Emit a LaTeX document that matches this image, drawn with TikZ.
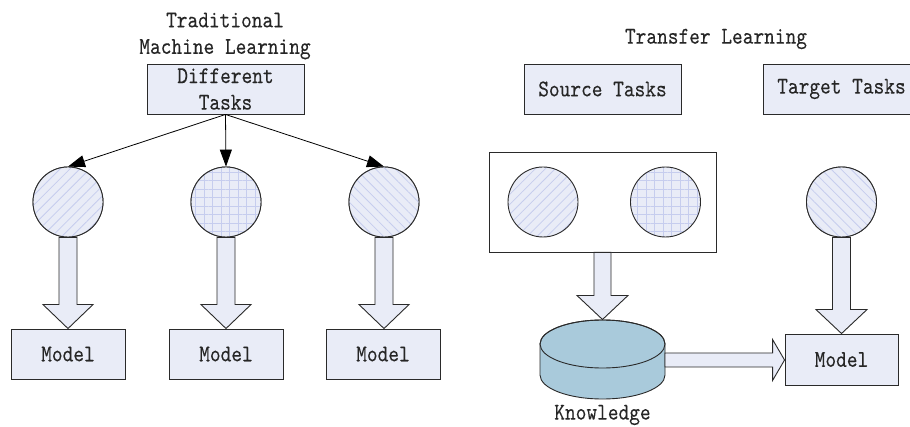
\documentclass[tikz,border=0pt]{standalone}
\usepackage{fontspec}
\usetikzlibrary{arrows.meta,calc,patterns.meta}
\newfontfamily\diagfont{lmmono10-regular}[Extension=.otf, FakeStretch=0.85, FakeBold=0.12]

\definecolor{boxfill}{HTML}{E9ECF7}
\definecolor{hatchc}{HTML}{C6CDEE}
\definecolor{edgec}{HTML}{2A2A2A}
\definecolor{cylfill}{HTML}{A9CADB}

% vertical block arrow: from, to, shaft half width, head half width, head length
\newcommand\blockdown[5]{%
  \draw[blockarrow] let \p1=(#1), \p2=(#2) in
    ({\x1-#3pt},\y1) -- ({\x1-#3pt},{\y2+#5pt}) -- ({\x1-#4pt},{\y2+#5pt})
    -- (\x1,\y2) -- ({\x1+#4pt},{\y2+#5pt}) -- ({\x1+#3pt},{\y2+#5pt})
    -- ({\x1+#3pt},\y1) -- cycle;}
% horizontal block arrow pointing right
\newcommand\blockright[5]{%
  \draw[blockarrow] let \p1=(#1), \p2=(#2) in
    (\x1,{\y1+#3pt}) -- ({\x2-#5pt},{\y1+#3pt}) -- ({\x2-#5pt},{\y1+#4pt})
    -- (\x2,\y1) -- ({\x2-#5pt},{\y1-#4pt}) -- ({\x2-#5pt},{\y1-#3pt})
    -- (\x1,{\y1-#3pt}) -- cycle;}

\tikzset{
  txt/.style={font=\diagfont\fontsize{24}{26.5}\selectfont, inner sep=0pt, text=black!85},
  taskbox/.style={txt, draw=edgec, fill=boxfill, line width=0.9pt,
    minimum width=157pt, minimum height=50pt, align=center},
  modelbox/.style={txt, draw=edgec, fill=boxfill, line width=0.9pt,
    minimum width=114pt, minimum height=50pt},
  disc/.style={circle, draw=edgec, line width=0.9pt, minimum size=70pt, inner sep=0pt,
    preaction={fill=boxfill}},
  discA/.style={disc, pattern={Lines[angle=45,distance=7pt,line width=0.8pt]}, pattern color=hatchc},
  discB/.style={disc, pattern={Hatch[angle=0,distance=8.5pt,line width=0.8pt]}, pattern color=hatchc},
  discC/.style={disc, pattern={Lines[angle=-45,distance=7pt,line width=0.8pt]}, pattern color=hatchc},
  thinarrow/.style={draw=black, line width=0.8pt, -{Triangle[length=17pt,width=12pt]}},
  blockarrow/.style={draw=edgec, fill=boxfill, line width=0.9pt, line join=miter},
}

\begin{document}
\begin{tikzpicture}[x=1pt,y=-1pt]
\useasboundingbox (0,0) rectangle (910,427);
\clip (0,0) rectangle (910,427);
\fill[white] (0,0) rectangle (910,427);

% ---------- traditional machine learning ----------
\node[txt, align=center] (tradT) at (225,36) {Traditional\\Machine Learning};
\node[taskbox] (diff) at (225.5,89) {Different\\Tasks};

\node[discA] (c1) at (68,202) {};
\node[discB] (c2) at (226,202) {};
\node[discC] (c3) at (384,202) {};

\node[modelbox] (m1) at (68,354) {Model};
\node[modelbox] (m2) at (226,354) {Model};
\node[modelbox] (m3) at (383,354) {Model};

\draw[thinarrow] (diff.south) -- (c1.north);
\draw[thinarrow] (diff.south) -- (c2.north);
\draw[thinarrow] (diff.south) -- (c3.north);

\blockdown{c1.south}{m1.north}{9}{25}{24}
\blockdown{c2.south}{m2.north}{9}{25}{24}
\blockdown{c3.south}{m3.north}{9}{25}{24}
\node[discA] at (c1) {};
\node[discB] at (c2) {};
\node[discC] at (c3) {};

% ---------- transfer learning ----------
\node[txt] (transT) at (716,39) {Transfer Learning};
\node[taskbox] (src) at (602.5,89) {Source Tasks};
\node[taskbox] (tgt) at (841.5,89) {Target Tasks};

\node[draw=edgec, fill=white, line width=0.9pt, minimum width=227pt, minimum height=100pt,
  inner sep=0pt] (pool) at (602.5,202) {};
\node[discA] (s1) at (543,202) {};
\node[discB] (s2) at (665.5,202) {};
\node[discC] (t1) at (841.5,202) {};

% knowledge store (cylinder)
\filldraw[draw=edgec, fill=cylfill, line width=0.9pt]
  (540,344) -- (540,375) arc[start angle=180, end angle=360, x radius=62.5, y radius=-24]
  -- (665,344) arc[start angle=0, end angle=180, x radius=62.5, y radius=-24] -- cycle;
\draw[edgec, line width=0.9pt] (602.5,344) ellipse[x radius=62.5, y radius=24];
\coordinate (kN) at (602.5,319.5);
\coordinate (kE) at (665,360);
\node[txt] (know) at (602.5,415) {Knowledge};

\node[modelbox, minimum width=113pt, minimum height=51pt] (mt) at (841.5,359.5) {Model};

\blockdown{pool.south}{kN}{8.5}{25.5}{24}
\blockdown{t1.south}{mt.north}{9}{25.5}{24}
\node[discC] at (t1) {};
\blockright{kE}{mt.west}{7}{20.5}{12}
\end{tikzpicture}
\end{document}
